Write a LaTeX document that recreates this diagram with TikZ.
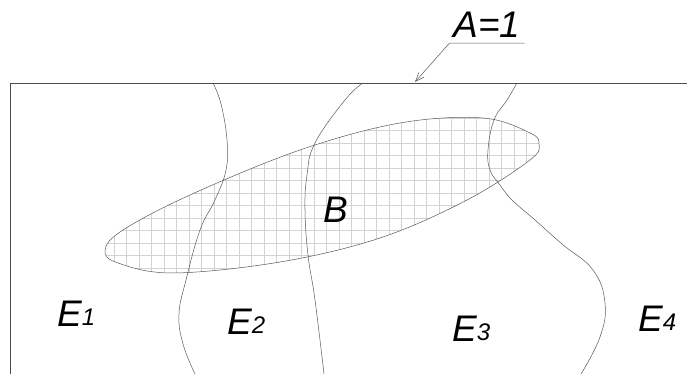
\documentclass[tikz,border=0pt]{standalone}
\usepackage{fontspec}
\setmainfont{Liberation Sans}
\usetikzlibrary{arrows.meta}
\newcommand{\ssub}[1]{{\fontsize{24}{26}\selectfont\raisebox{1.5pt}{#1}}}

\begin{document}
\begin{tikzpicture}[x=1pt,y=1pt,
    lbl/.style={font=\fontsize{37}{40}\selectfont\itshape, inner sep=0pt, anchor=base west},
    edge/.style={line width=0.7pt, black!70},
    part/.style={line width=0.5pt, black!65}]
    \useasboundingbox (0,0) rectangle (687,374);
    % 全集 A
    \draw[edge] (10,0) -- (10,291) -- (687,291);
    % 事件 B 网格
    \begin{scope}
        \clip plot [smooth cycle, tension=0.6] coordinates {(105,124) (123,144) (190,179) (300,224) (400,251) (483,256) (530,241) (539,230) (530,214) (467,174) (380,136) (280,112) (173,101) (118,111)};
        \draw[gray!35, line width=0.6pt, shift={(1.5,6)}, step=12.5] (80,80) grid (560,270);
    \end{scope}
    \draw[part] plot [smooth cycle, tension=0.6] coordinates {(105,124) (123,144) (190,179) (300,224) (400,251) (483,256) (530,241) (539,230) (530,214) (467,174) (380,136) (280,112) (173,101) (118,111)};
    % 划分 E_1,...,E_4 的边界
    \draw[part] plot [smooth, tension=0.7] coordinates {(213,291) (221,270) (227,234) (226,204) (215,174) (200,144) (186,94) (179,60) (183,30) (195,0)};
    \draw[part] plot [smooth, tension=0.7] coordinates {(363,291) (345,274) (315,231) (307,199) (305,164) (308,119) (315,74) (324,0)};
    \draw[part] plot [smooth, tension=0.7] coordinates {(517,291) (507,274) (494,254) (488,224) (490,204) (500,189) (512,174) (535,154) (562,130) (593,104) (605,71) (600,37) (581,0)};
    % 标注
    \node (lblA) [lbl, anchor=base, inner xsep=4pt, inner ysep=5pt] at (487,336) {A=1};
    \coordinate (tipA) at (415,292);
    \draw[part, -{Straight Barb[length=9pt, width=7pt]}] (lblA.south east) -- (lblA.south west) -- (tipA);
    \node (evB) [lbl] at (323,151) {B};
    \node (e1) [lbl] at (57,47) {E\ssub{1}};
    \node (e2) [lbl] at (227,39) {E\ssub{2}};
    \node (e3) [lbl] at (452,32) {E\ssub{3}};
    \node (e4) [lbl] at (638,42) {E\ssub{4}};
\end{tikzpicture}
\end{document}
